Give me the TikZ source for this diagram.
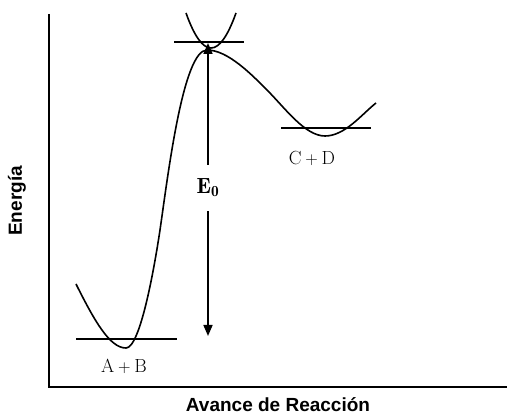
\documentclass[tikz,border=0pt]{standalone}
\usepackage{fontspec}
\newfontfamily\arialfont{Liberation Sans}
\usetikzlibrary{arrows.meta}
\begin{document}
\begin{tikzpicture}[x=1pt,y=-1pt,
  axisline/.style={line width=2.4pt},
  curveline/.style={line width=1.6pt},
  levelline/.style={line width=1.6pt},
  arrowline/.style={line width=1.6pt,-{Triangle[length=11pt,width=9pt]}},
  axislabel/.style={font=\arialfont\bfseries\fontsize{19}{22}\selectfont,inner sep=0pt},
  species/.style={font=\fontsize{19}{22}\selectfont,inner sep=0pt}]
\useasboundingbox (0,0) rectangle (507,417);
% axes
\coordinate (orig) at (49,387);
\coordinate (ytop) at (49,14);
\coordinate (xend) at (507,387);
\draw[axisline] (ytop) -- (orig) -- (xend);
\node[axislabel,rotate=90] (ylab) at (17,201) {Energía};
\node[axislabel,anchor=base] (xlab) at (278,412) {Avance de Reacción};
% energy profile
\coordinate (c0) at (76,284);
\coordinate (m1) at (126,348);
\coordinate (i1) at (160,230);
\coordinate (pk) at (207,50);
\coordinate (i2) at (267,90);
\coordinate (m2) at (325,136);
\coordinate (c1) at (376,103);
\draw[curveline] (c0) .. controls (95,322) and (110,348) .. (m1)
  .. controls (140,348) and (154,270) .. (i1)
  .. controls (168,175) and (183,50) .. (pk)
  .. controls (228,50) and (252,75) .. (i2)
  .. controls (285,108) and (305,136) .. (m2)
  .. controls (345,136) and (362,114) .. (c1);
% upper parabola
\coordinate (pl) at (186,13);
\coordinate (pr) at (236,13);
\draw[curveline] (pl) .. controls (202.7,59.7) and (219.3,59.7) .. (pr);
% level lines
\coordinate (l1a) at (76,339); \coordinate (l1b) at (177,339);
\coordinate (l2a) at (174,42); \coordinate (l2b) at (244,42);
\coordinate (l3a) at (281,128); \coordinate (l3b) at (371,128);
\draw[levelline] (l1a) -- (l1b);
\draw[levelline] (l2a) -- (l2b);
\draw[levelline] (l3a) -- (l3b);
% labels
\node[species] (ab) at (124,366) {$\mathrm{A}+\mathrm{B}$};
\node[species] (cd) at (312,158) {$\mathrm{C}+\mathrm{D}$};
% E0 arrow
\node[font=\fontsize{22}{24}\selectfont,minimum height=46pt,inner sep=0pt] (e0) at (208,188) {$\mathbf{E}_{\mathbf{0}}$};
\coordinate (atop) at (208,43);
\coordinate (abot) at (208,336);
\draw[arrowline] (e0.north) -- (atop);
\draw[arrowline] (e0.south) -- (abot);
\end{tikzpicture}
\end{document}
